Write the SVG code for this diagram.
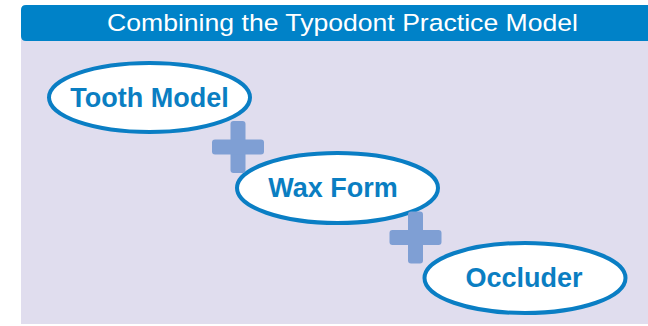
<svg xmlns="http://www.w3.org/2000/svg" width="648" height="326" viewBox="0 0 648 326">
  <style>
    .node ellipse { fill: #FFFFFF; stroke: #0A7EC4; stroke-width: 4; }
    .node text { font-family: "Liberation Sans", Arial, sans-serif; font-weight: bold; font-size: 27px; fill: #0A7EC2; text-anchor: middle; }
    .plus { fill: #7F9FD4; }
    .title { font-family: "Liberation Sans", Arial, sans-serif; font-size: 24.5px; fill: #FFFFFF; text-anchor: middle; }
  </style>
  <defs>
    <g id="plusShape">
      <rect x="-7.5" y="-26" width="15" height="52" rx="3" class="plus"/>
      <rect x="-26" y="-7.5" width="52" height="15" rx="3" class="plus"/>
    </g>
  </defs>
  <rect x="0" y="0" width="648" height="326" fill="#FFFFFF"/>
  <g id="panel">
    <rect x="21" y="36" width="627" height="288" fill="#E0DDEE"/>
    <path d="M26 5 H648 V41 H26 Q21 41 21 36 V10 Q21 5 26 5 Z" fill="#0082C8"/>
    <text class="title" x="342.5" y="31.3" textLength="471" lengthAdjust="spacingAndGlyphs">Combining the Typodont Practice Model</text>
  </g>
  <g id="node-tooth-model" class="node">
    <ellipse cx="149.5" cy="97.5" rx="100.5" ry="34.5"/>
    <text x="149.5" y="106.5">Tooth Model</text>
  </g>
  <g id="node-wax-form" class="node">
    <ellipse cx="337.5" cy="188" rx="100.5" ry="35"/>
    <text x="333" y="197">Wax Form</text>
  </g>
  <g id="node-occluder" class="node">
    <ellipse cx="525" cy="278" rx="100.5" ry="35"/>
    <text x="524" y="287">Occluder</text>
  </g>
  <g id="connectors">
    <use href="#plusShape" x="238" y="147"/>
    <use href="#plusShape" x="415.5" y="237.5"/>
  </g>
</svg>
